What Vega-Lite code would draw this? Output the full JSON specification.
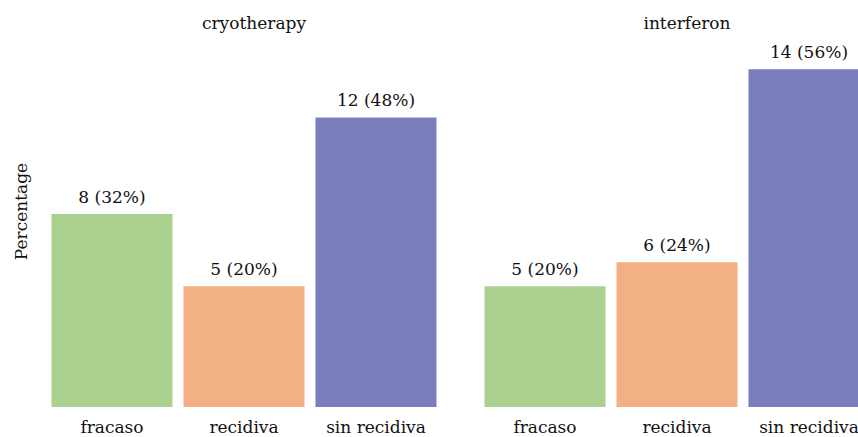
{
  "$schema": "https://vega.github.io/schema/vega-lite/v6.json",
  "padding": {"left": 12, "top": 15, "right": 0, "bottom": 0},
  "config": {
    "font": "DejaVu Serif",
    "view": {"stroke": null},
    "text": {"font": "DejaVu Serif"},
    "header": {"labelFont": "DejaVu Serif", "titleFont": "DejaVu Serif"},
    "axis": {"grid": false, "domain": false, "ticks": false, "labelColor": "#111111", "titleColor": "#111111", "labelFont": "DejaVu Serif", "titleFont": "DejaVu Serif"}
  },
  "data": {"values": [
    {"treatment": "cryotherapy", "outcome": "fracaso", "n": 8, "pct": 0.32, "label": "8 (32%)"},
    {"treatment": "cryotherapy", "outcome": "recidiva", "n": 5, "pct": 0.20, "label": "5 (20%)"},
    {"treatment": "cryotherapy", "outcome": "sin recidiva", "n": 12, "pct": 0.48, "label": "12 (48%)"},
    {"treatment": "interferon", "outcome": "fracaso", "n": 5, "pct": 0.20, "label": "5 (20%)"},
    {"treatment": "interferon", "outcome": "recidiva", "n": 6, "pct": 0.24, "label": "6 (24%)"},
    {"treatment": "interferon", "outcome": "sin recidiva", "n": 14, "pct": 0.56, "label": "14 (56%)"}
  ]},
  "spacing": 17,
  "facet": {
    "column": {
      "field": "treatment", "type": "nominal", "title": null,
      "header": {"labelFontSize": 17, "labelPadding": 11, "labelColor": "#111111", "labelFont": "DejaVu Serif"}
    }
  },
  "spec": {
    "width": 416,
    "height": 362,
    "encoding": {
      "x": {
        "field": "outcome", "type": "nominal", "title": null,
        "scale": {"paddingInner": 0.0833, "paddingOuter": 0.1174, "align": 0.177},
        "axis": {"labelAngle": 0, "labelFontSize": 17, "labelPadding": 12, "labelFont": "DejaVu Serif"}
      },
      "y": {
        "field": "pct", "type": "quantitative", "title": "Percentage",
        "scale": {"domain": [0, 0.6]},
        "axis": {"labels": false, "titleFontSize": 17, "titleFontWeight": "normal", "titlePadding": 16, "titleY": 166, "titleFont": "DejaVu Serif"}
      }
    },
    "layer": [
      {
        "mark": {"type": "bar"},
        "encoding": {
          "color": {
            "field": "outcome", "type": "nominal", "legend": null,
            "scale": {"domain": ["fracaso", "recidiva", "sin recidiva"], "range": ["#abd08f", "#f2b084", "#7a7ebd"]}
          }
        }
      },
      {
        "mark": {"type": "text", "baseline": "bottom", "dy": -7, "fontSize": 17, "color": "#111111", "font": "DejaVu Serif"},
        "encoding": {"text": {"field": "label"}}
      }
    ]
  }
}
